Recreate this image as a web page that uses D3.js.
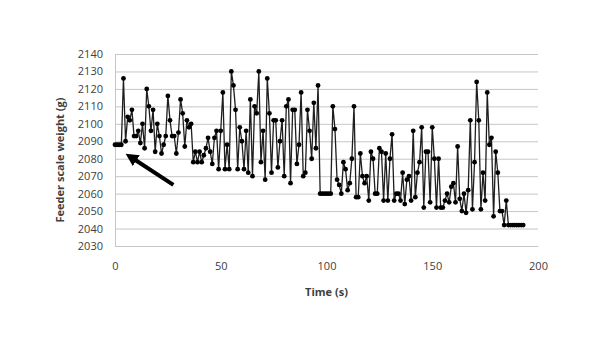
<!DOCTYPE html>
<html>
<head>
<meta charset="utf-8">
<script src="https://cdn.jsdelivr.net/npm/d3@7"></script>
<style>
  body { margin: 0; background: #fff; }
  svg text { font-family: "Open Sans", "Liberation Sans", sans-serif; fill: #404040; }
</style>
</head>
<body>
<svg id="chart" width="616" height="345"></svg>
<script>
// feeder scale readings, one per second
const sampleStep = 1;
const weights = [
  2088, 2088, 2088, 2088, 2126, 2090, 2104, 2102, 2108, 2093,
  2093, 2096, 2089, 2100, 2086, 2120, 2110, 2096, 2108, 2084,
  2100, 2093, 2083, 2088, 2093, 2116, 2102, 2093, 2093, 2083,
  2095, 2114, 2106, 2087, 2102, 2098, 2100, 2078, 2084, 2078,
  2084, 2078, 2082, 2086, 2092, 2084, 2077, 2092, 2096, 2074,
  2096, 2118, 2074, 2088, 2074, 2130, 2122, 2108, 2074, 2098,
  2090, 2074, 2096, 2072, 2114, 2070, 2110, 2106, 2130, 2078,
  2096, 2068, 2126, 2106, 2072, 2102, 2102, 2075, 2090, 2102,
  2070, 2110, 2114, 2066, 2108, 2108, 2077, 2088, 2118, 2070,
  2072, 2108, 2096, 2080, 2112, 2086, 2122, 2060, 2060, 2060,
  2060, 2060, 2060, 2110, 2097, 2068, 2065, 2060, 2078, 2074,
  2062, 2066, 2080, 2110, 2058, 2058, 2083, 2070, 2066, 2070,
  2056, 2084, 2080, 2060, 2060, 2086, 2084, 2056, 2083, 2056,
  2080, 2094, 2056, 2060, 2060, 2056, 2072, 2054, 2068, 2070,
  2056, 2096, 2058, 2072, 2078, 2098, 2052, 2084, 2084, 2055,
  2098, 2080, 2052, 2080, 2052, 2052, 2056, 2060, 2055, 2064,
  2066, 2055, 2087, 2057, 2050, 2060, 2049, 2062, 2102, 2051,
  2078, 2124, 2102, 2051, 2072, 2056, 2118, 2088, 2092, 2047,
  2084, 2072, 2050, 2050, 2042, 2056, 2042, 2042, 2042, 2042,
  2042, 2042, 2042, 2042
];
const xTicks = [0, 50, 100, 150, 200];
const yTicks = [2030, 2040, 2050, 2060, 2070, 2080, 2090, 2100, 2110, 2120, 2130, 2140];
// annotation arrow: tail and tip, in data units
const arrowFrom = [27.6, 2065];
const arrowTo = [5.5, 2082.5];

const data = weights.map((w, i) => ({ t: i * sampleStep, w: w }));

const margin = { top: 54, right: 78, bottom: 99, left: 115 };
const width = 616 - margin.left - margin.right;
const height = 345 - margin.top - margin.bottom;

const svg = d3.select("#chart");
const g = svg.append("g").attr("transform", `translate(${margin.left},${margin.top})`);

const x = d3.scaleLinear().domain([0, 200]).range([0, width]);
const y = d3.scaleLinear().domain([2030, 2140]).range([height, 0]);

// gridlines
g.append("g")
  .selectAll("line")
  .data(yTicks)
  .enter().append("line")
  .attr("x1", 0)
  .attr("x2", width)
  .attr("y1", d => y(d) + 0.5)
  .attr("y2", d => y(d) + 0.5)
  .attr("stroke", "#c6c6c6")
  .attr("stroke-width", 1);

// axes
const yAxis = g.append("g")
  .call(d3.axisLeft(y).tickValues(yTicks).tickSize(0).tickPadding(12).tickFormat(d3.format("d")));
yAxis.select(".domain").attr("stroke", "#c6c6c6");
yAxis.selectAll("text").style("font-size", "11px").attr("fill", "#404040");

const xAxis = g.append("g")
  .attr("transform", `translate(0,${height})`)
  .call(d3.axisBottom(x).tickValues(xTicks).tickSize(0).tickPadding(16));
xAxis.select(".domain").attr("stroke", "#c6c6c6");
xAxis.selectAll("text").style("font-size", "11px").attr("fill", "#404040");

// axis titles
svg.append("text")
  .attr("x", margin.left + x(100))
  .attr("y", 296)
  .attr("text-anchor", "middle")
  .style("font-size", "11px")
  .style("font-weight", "bold")
  .text("Time (s)");

svg.append("text")
  .attr("transform", `translate(64,${margin.top + height / 2 + 10}) rotate(-90)`)
  .attr("text-anchor", "middle")
  .style("font-size", "11px")
  .style("font-weight", "bold")
  .text("Feeder scale weight (g)");

// series
const line = d3.line().x(d => x(d.t)).y(d => y(d.w));

g.append("path")
  .datum(data)
  .attr("fill", "none")
  .attr("stroke", "#1e1e1e")
  .attr("stroke-width", 1.3)
  .attr("d", line);

g.append("g")
  .selectAll("circle")
  .data(data)
  .enter().append("circle")
  .attr("cx", d => x(d.t))
  .attr("cy", d => y(d.w))
  .attr("r", 2.4)
  .attr("fill", "#000");

// arrow
const defs = svg.append("defs");
defs.append("marker")
  .attr("id", "head")
  .attr("viewBox", "0 0 10 10")
  .attr("refX", 2)
  .attr("refY", 5)
  .attr("markerWidth", 3.2)
  .attr("markerHeight", 3.2)
  .attr("orient", "auto")
  .append("path")
  .attr("d", "M0,0 L10,5 L0,10 z")
  .attr("fill", "#000");

const ax1 = x(arrowFrom[0]), ay1 = y(arrowFrom[1]);
const ax2 = x(arrowTo[0]), ay2 = y(arrowTo[1]);
const len = Math.hypot(ax2 - ax1, ay2 - ay1);
const back = 9;
g.append("line")
  .attr("x1", ax1)
  .attr("y1", ay1)
  .attr("x2", ax2 - (ax2 - ax1) / len * back)
  .attr("y2", ay2 - (ay2 - ay1) / len * back)
  .attr("stroke", "#000")
  .attr("stroke-width", 4)
  .attr("marker-end", "url(#head)");
</script>
</body>
</html>
